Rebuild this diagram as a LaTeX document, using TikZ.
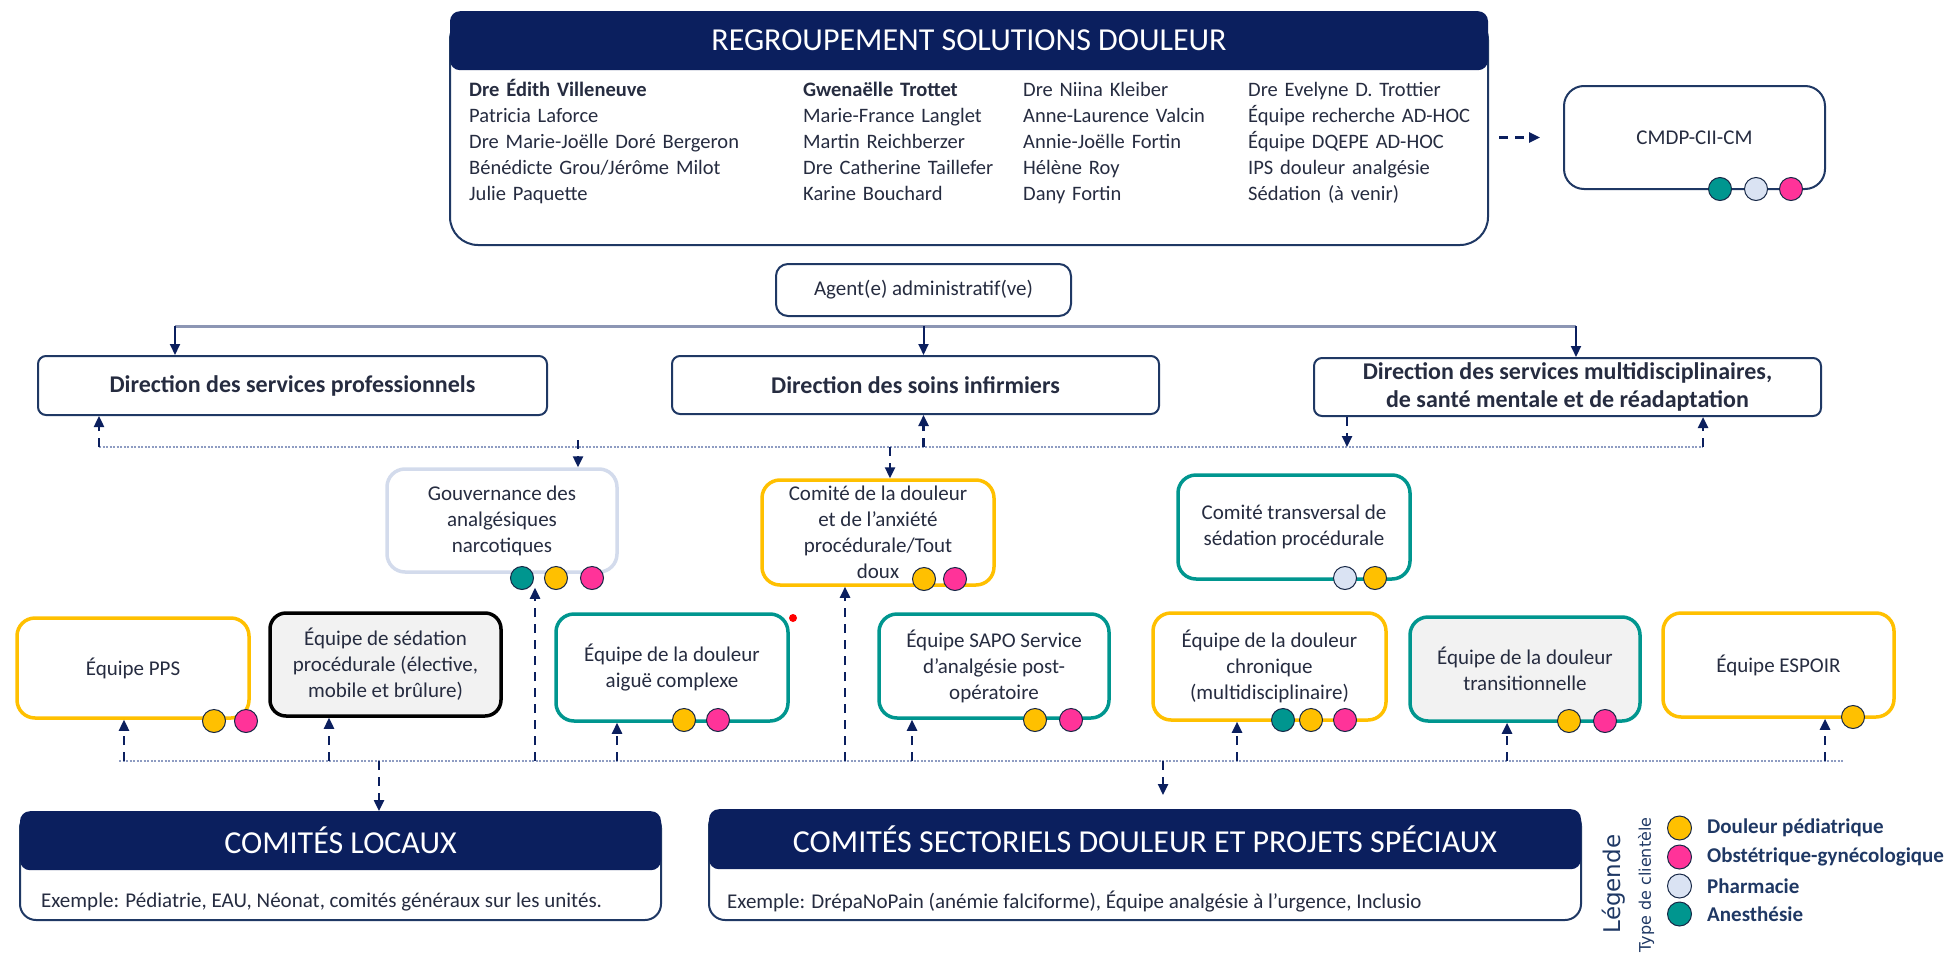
\documentclass[tikz,border=0pt]{standalone}
\usepackage{fontspec}
\setmainfont{Carlito}
\newfontfamily\legfont{DejaVu Sans}
\usetikzlibrary{positioning}
\usetikzlibrary{arrows.meta}
\usetikzlibrary{matrix}

\definecolor{marine}{HTML}{0B1F5E}
\definecolor{trait}{HTML}{1F3864}
\definecolor{encre}{HTML}{262C40}
\definecolor{ambre}{HTML}{FFC000}
\definecolor{sarcelle}{HTML}{00968F}
\definecolor{rose}{HTML}{FF3399}
\definecolor{glace}{HTML}{DAE3F3}
\definecolor{brume}{HTML}{D3DBEC}
\definecolor{perle}{HTML}{F2F2F2}
\definecolor{pointille}{HTML}{8E9CC2}
\definecolor{rail}{HTML}{8C96B4}

\newcommand{\fsz}[2]{\fontsize{#1}{#2}\selectfont}

\begin{document}
\begin{tikzpicture}[x=1pt, y=-1pt,
    cadre/.style={draw=trait, line width=2pt, rounded corners=10pt, fill=white, align=center, text=encre, font=\fsz{21}{26}, inner sep=0pt},
    jaune/.style={cadre, draw=ambre, line width=3.5pt, rounded corners=18pt},
    verte/.style={cadre, draw=sarcelle, line width=3.5pt, rounded corners=18pt},
    direction/.style={cadre, rounded corners=8pt, font=\fsz{24}{28}\bfseries},
    entete/.style={fill=marine, rounded corners=10pt, text=white, font=\fsz{32}{36}, inner sep=0pt},
    exemple/.style={anchor=west, inner sep=0pt, text=encre, font=\fsz{21}{26}},
    pastille/.style={circle, draw=trait!70!black, line width=1pt, minimum size=23pt, inner sep=0pt},
    pointe/.style={-{Triangle[length=11pt, width=10pt]}},
    liaison/.style={pointe, draw=marine, line width=2.4pt, dash pattern=on 9pt off 7pt},
    palier/.style={pointe, draw=marine, line width=2pt},
    bus/.style={draw=pointille, line width=2.4pt, dash pattern=on 2pt off 1.5pt}
  ]

  \useasboundingbox (0,0) rectangle (1949,961);

  \node[cadre, rounded corners=28pt, minimum width=1038pt, minimum height=233pt] (rsd) at (969,128.5) {};
  \node[entete, minimum width=1038pt, minimum height=59pt, anchor=north] (rsdtitre) at (rsd.north) {REGROUPEMENT SOLUTIONS DOULEUR};

  \matrix (noms) [matrix of nodes, anchor=north west, inner sep=0pt, row sep=7pt, column sep=0pt,
    nodes={inner sep=0pt, text height=15pt, text depth=4pt, align=left, text=encre, font=\fsz{20.5}{24}},
    column 1/.style={nodes={text width=334pt}}, column 2/.style={nodes={text width=220pt}},
    column 3/.style={nodes={text width=225pt}}, column 4/.style={nodes={text width=230pt}}] at (469,81.5) {
  \textbf{Dre Édith Villeneuve} & \textbf{Gwenaëlle Trottet} & Dre Niina Kleiber & Dre Evelyne D. Trottier \\
  Patricia Laforce & Marie-France Langlet & Anne-Laurence Valcin & Équipe recherche AD-HOC \\
  Dre Marie-Joëlle Doré Bergeron & Martin Reichberzer & Annie-Joëlle Fortin & Équipe DQEPE AD-HOC \\
  Bénédicte Grou/Jérôme Milot & Dre Catherine Taillefer & Hélène Roy & IPS douleur analgésie \\
  Julie Paquette & Karine Bouchard & Dany Fortin & Sédation (à venir) \\
  };

  \node[cadre, rounded corners=20pt, minimum width=261pt, minimum height=103pt] (cmdp) at (1694.5,137.5) {CMDP-CII-CM};
  \node[cadre, rounded corners=12pt, minimum width=295pt, minimum height=52pt] (agent) at (923.5,290) {Agent(e) administratif(ve)};

  \node[direction, minimum width=509pt, minimum height=59pt] (dsp) at (292.5,385.5) {Direction des services professionnels};
  \node[direction, minimum width=487pt, minimum height=58pt] (dsi) at (915.5,385) {Direction des soins infirmiers};
  \node[direction, minimum width=507pt, minimum height=58pt] (dsm) at (1567.5,387) {Direction des services multidisciplinaires,\\de santé mentale et de réadaptation};

  \node[cadre, draw=brume, line width=3.5pt, rounded corners=18pt, minimum width=230pt, minimum height=103pt] (gouv) at (502,520.5) {Gouvernance des\\analgésiques\\narcotiques};
  \node[jaune, minimum width=232pt, minimum height=105pt] (cdoul) at (878,532.5) {Comité de la douleur\\et de l’anxiété\\procédurale/Tout\\doux};
  \node[verte, minimum width=232pt, minimum height=104pt] (ctrans) at (1294,527) {Comité transversal de\\sédation procédurale};

  \node[jaune, minimum width=232pt, minimum height=100pt] (pps) at (133,668) {Équipe PPS};
  \node[cadre, draw=black, fill=perle, line width=3.5pt, rounded corners=16pt, minimum width=231pt, minimum height=103pt] (sed) at (385.5,664.5) {Équipe de sédation\\procédurale (élective,\\mobile et brûlure)};
  \node[verte, minimum width=232pt, minimum height=107pt] (aigue) at (672,667.5) {Équipe de la douleur\\aiguë complexe};
  \node[verte, minimum width=230pt, minimum height=104pt] (sapo) at (994,666) {Équipe SAPO Service\\d’analgésie post-\\opératoire};
  \node[jaune, minimum width=233pt, minimum height=107pt] (chron) at (1269.5,666.5) {Équipe de la douleur\\chronique\\(multidisciplinaire)};
  \node[verte, fill=perle, minimum width=230pt, minimum height=104pt] (trans) at (1525,669) {Équipe de la douleur\\transitionnelle};
  \node[jaune, minimum width=231pt, minimum height=104pt] (espoir) at (1778.5,665) {Équipe ESPOIR};
  \node[circle, fill=red, inner sep=0pt, minimum size=8pt] (rouge) at (793,618) {};

  \node[cadre, rounded corners=16pt, minimum width=641pt, minimum height=108pt] (cloc) at (340.5,866) {};
  \node[entete, minimum width=641pt, minimum height=59pt, anchor=north] (cloctitre) at (cloc.north) {COMITÉS LOCAUX};
  \node[exemple] (clocex) at (41,902) {Exemple: Pédiatrie, EAU, Néonat, comités généraux sur les unités.};

  \node[cadre, rounded corners=16pt, minimum width=872pt, minimum height=110pt] (csect) at (1145,865) {};
  \node[entete, minimum width=872pt, minimum height=60pt, anchor=north] (csecttitre) at (csect.north) {COMITÉS SECTORIELS DOULEUR ET PROJETS SPÉCIAUX};
  \node[exemple] (csectex) at (727,902) {Exemple: DrépaNoPain (anémie falciforme), Équipe analgésie à l’urgence, Inclusio};

  \foreach \x/\y/\c [count=\i] in {1720/189/sarcelle, 1756/189/glace, 1791/189/rose,
      522/578/sarcelle, 556/578/ambre, 592/578/rose, 924/579/ambre, 955/579/rose,
      1345/578/glace, 1375/578/ambre, 214/721/ambre, 246/721/rose, 684/720/ambre, 718/720/rose,
      1035/720/ambre, 1071/720/rose, 1283/720/sarcelle, 1311/720/ambre, 1345/720/rose,
      1569/721/ambre, 1605/721/rose, 1853/717/ambre}
    \node[pastille, fill=\c] (p\i) at (\x,\y) {};

  \node[rotate=90, inner sep=0pt, text=trait, font=\legfont\fsz{23}{28}] (leg) at (1614,884) {Légende};
  \node[rotate=90, inner sep=0pt, text=trait, font=\legfont\fsz{16}{20}] (type) at (1646,885) {Type de clientèle};
  \foreach \y/\c/\lbl [count=\i] in {828/ambre/Douleur pédiatrique, 857/rose/Obstétrique-gynécologique,
      886/glace/Pharmacie, 914/sarcelle/Anesthésie} {
    \node[pastille, minimum size=24pt, fill=\c] (l\i) at (1679.5,\y) {};
    \node[right=15pt of l\i, inner sep=0pt, text=trait, font=\fsz{21}{24}\bfseries] (lt\i) {\lbl};
  }

  \draw[liaison, shorten <=10pt, shorten >=23pt] (rsd.east |- cmdp.west) -- (cmdp.west);

  \coordinate (railg) at (175,326);
  \coordinate (raild) at (1576,326);
  \draw[rail, line width=3pt] (railg) -- (raild);
  \draw[palier] (railg) -- (railg |- dsp.north);
  \draw[palier] (agent.south |- railg) -- (agent.south |- dsi.north);
  \draw[palier] (raild) -- (raild |- dsm.north);

  \coordinate (bh1) at (99,447);
  \coordinate (bh2) at (1703,447);
  \coordinate (dm1) at (1347,447);
  \coordinate (g1) at (578,440);
  \coordinate (c1) at (890,447);
  \draw[bus] (bh1) -- (bh2);
  \draw[liaison] (bh1) -- (bh1 |- dsp.south);
  \draw[liaison] (agent.south |- bh1) -- (agent.south |- dsi.south);
  \draw[liaison] (dm1 |- dsm.south) -- (dm1);
  \draw[liaison] (bh2) -- (bh2 |- dsm.south);
  \draw[liaison] (g1) -- (g1 |- gouv.north);
  \draw[liaison] (c1) -- (c1 |- cdoul.north);

  \coordinate (bb1) at (119,761);
  \coordinate (bb2) at (1843,761);
  \draw[bus] (bb1) -- (bb2);
  \foreach \x/\cible/\ecart in {124/pps/0, 329/sed/0, 535/gouv/14, 617/aigue/0, 845/cdoul/0,
      912/sapo/0, 1237/chron/0, 1507/trans/0, 1825/espoir/0} {
    \coordinate (m) at (\x,761);
    \draw[liaison, shorten >=\ecart pt] (m) -- (m |- \cible.south);
  }
  \coordinate (d1) at (379,761);
  \coordinate (d2) at (1163,761);
  \draw[liaison] (d1) -- (d1 |- cloc.north);
  \draw[liaison, shorten >=14pt] (d2) -- (d2 |- csect.north);

\end{tikzpicture}
\end{document}
